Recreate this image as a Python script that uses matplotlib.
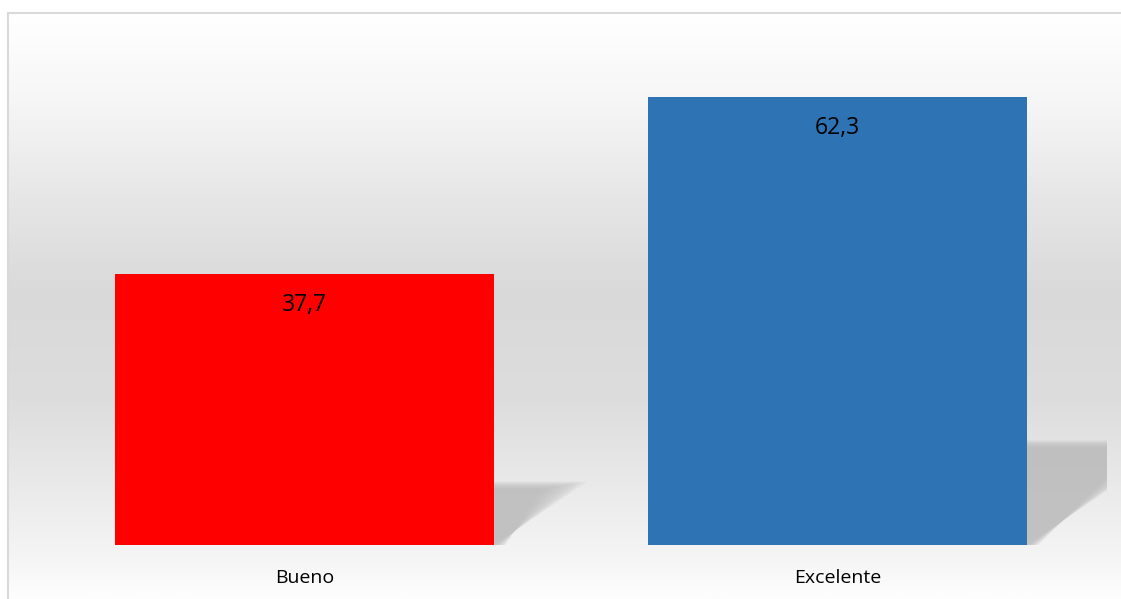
import numpy as np
import matplotlib
matplotlib.use('Agg')
import matplotlib.pyplot as plt
from matplotlib.lines import Line2D
from matplotlib.colors import LinearSegmentedColormap

# data
categories = ['Bueno', 'Excelente']
values = [37.7, 62.3]
value_labels = ['37,7', '62,3']
colors = ['#FF0000', '#2E74B5']

W, H = 1121, 599
fig = plt.figure(figsize=(W / 100, H / 100), dpi=100)
fig.patch.set_facecolor('white')

# gradient background of the plot area (white -> grey -> white)
bg = fig.add_axes([8 / W, 0, 1 - 8 / W, (H - 13) / H])
stops = [(0.0, '#ffffff'), (0.15, '#f6f6f6'), (0.32, '#e6e6e6'),
         (0.48, '#d9d9d9'), (0.66, '#dddddd'), (0.80, '#e9e9e9'),
         (0.91, '#f3f3f3'), (1.0, '#fdfdfd')]
cmap = LinearSegmentedColormap.from_list('bg', stops)
grad = np.linspace(0, 1, 256).reshape(-1, 1)
bg.imshow(grad, aspect='auto', cmap=cmap, extent=[0, 1, 1, 0])
bg.set_axis_off()

# main axes, bar centres at 0 and 1
ax = fig.add_axes([8 / W, (H - 545) / H, (1107 - 8) / W, (545 - 13) / H])
ax.set_facecolor('none')
x = np.arange(len(categories))
width = 0.711

# soft slanted shadows behind the bars
for xi, v in zip(x, values):
    dx = 0.00463 * v
    dy = 0.234 * v
    for i in range(8):
        s = i * 0.003
        poly = [(xi - width / 2, 0), (xi + width / 2 + s, 0),
                (xi + width / 2 + dx - s * 4, dy - s * 50),
                (xi - width / 2 + dx, dy - s * 50)]
        ax.fill([p[0] for p in poly], [p[1] for p in poly],
                color='#b8b8b8', alpha=0.18, lw=0, zorder=1)

ax.bar(x, values, width=width, color=colors, zorder=3)

for xi, v, lab in zip(x, values, value_labels):
    ax.text(xi, v - 4.3, lab, ha='center', va='center',
            fontsize=16.5, family='Open Sans', color='black', zorder=4)

ax.set_xlim(-0.5563, 1.5056)
ax.set_ylim(0, 74)
ax.set_xticks(x)
ax.set_xticklabels(categories, fontsize=14, family='Open Sans')
ax.tick_params(axis='x', length=0, pad=17)
ax.set_yticks([])
for sp in ax.spines.values():
    sp.set_visible(False)

# thin light border on top and left
fig.add_artist(Line2D([8 / W, 1], [(H - 13) / H] * 2, color='#d9d9d9', lw=1.5))
fig.add_artist(Line2D([8 / W] * 2, [0, (H - 13) / H], color='#d9d9d9', lw=1.5))

fig.savefig('out.png', dpi=100, facecolor='white')
